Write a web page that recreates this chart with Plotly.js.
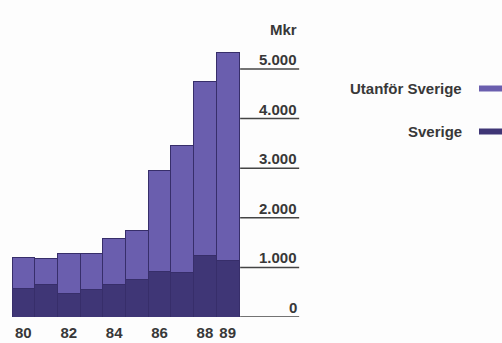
<!DOCTYPE html>
<html>
<head>
<meta charset="utf-8">
<script src="https://cdn.plot.ly/plotly-3.0.1.min.js"></script>
<style>
  html, body { margin: 0; padding: 0; background: #fdfdfd; }
  #chart { width: 502px; height: 343px; }
</style>
</head>
<body>
<div id="chart"></div>
<script>
// Years (two-digit) and revenue in Mkr
const years = ['80', '81', '82', '83', '84', '85', '86', '87', '88', '89'];
const sverige = [570, 655, 480, 550, 650, 750, 920, 900, 1235, 1135];
const totals = [1190, 1175, 1275, 1275, 1580, 1745, 2955, 3455, 4740, 5325];
const utanfor = totals.map((t, i) => t - sverige[i]);

const xTickVals = ['80', '82', '84', '86', '88', '89'];
const yTicks = [0, 1000, 2000, 3000, 4000, 5000];
const yTickText = ['0', '1.000', '2.000', '3.000', '4.000', '5.000'];

const seriesNames = ['Sverige', 'Utanför Sverige'];
const colDark = '#3f3676';
const colLight = '#6a5eae';
const edge = '#372e6a';
const ink = '#383838';
const FONT = 'Liberation Sans, Arial, sans-serif';
const FS = 15;

// plot area in pixels
const L = 12, R = 300, T = 40, B = 317;
const W = 502, H = 343;
const px = v => (v - L) / (R - L);
const py = v => (B - v) / (B - T);

const traces = [
  { type: 'bar', x: years, y: sverige, name: seriesNames[0],
    marker: { color: colDark, line: { color: edge, width: 1 } }, hoverinfo: 'skip' },
  { type: 'bar', x: years, y: utanfor, name: seriesNames[1],
    marker: { color: colLight, line: { color: edge, width: 1 } }, hoverinfo: 'skip' }
];

const shapes = [];
const annotations = [];

// short rules to the right of the bars, one per y tick
yTicks.forEach((v, i) => {
  shapes.push({ type: 'line', xref: 'x', yref: 'y', x0: 9.55, x1: 12.15, y0: v, y1: v,
    line: { color: '#444', width: 1.5 } });
  annotations.push({ xref: 'x', yref: 'y', x: 12.15, y: v, xanchor: 'right', yanchor: 'bottom',
    yshift: -1, showarrow: false, text: yTickText[i],
    font: { family: FONT, size: FS, color: ink, weight: 'bold' } });
});

// unit label
annotations.push({ xref: 'paper', yref: 'paper', x: px(299), y: py(30), xanchor: 'right', yanchor: 'middle',
  showarrow: false, text: 'Mkr', font: { family: FONT, size: FS, color: ink, weight: 'bold' } });

// legend: text on the left, swatch on the right
const legendRows = [
  { name: seriesNames[1], color: colLight, yc: 88.5 },
  { name: seriesNames[0], color: colDark, yc: 131.5 }
];
legendRows.forEach(r => {
  annotations.push({ xref: 'paper', yref: 'paper', x: px(464), y: py(r.yc), xanchor: 'right', yanchor: 'middle',
    showarrow: false, text: r.name, font: { family: FONT, size: FS, color: ink, weight: 'bold' } });
  shapes.push({ type: 'rect', xref: 'paper', yref: 'paper', x0: px(479), x1: px(504),
    y0: py(r.yc + 3), y1: py(r.yc - 3), fillcolor: r.color, line: { width: 0 } });
});

const layout = {
  width: W, height: H,
  margin: { l: L, r: W - R, t: T, b: H - B, pad: 0 },
  paper_bgcolor: '#fdfdfd', plot_bgcolor: 'rgba(0,0,0,0)',
  barmode: 'stack', bargap: 0,
  showlegend: false,
  xaxis: {
    type: 'category', range: [-0.5, 12.187], tickvals: xTickVals, ticktext: xTickVals,
    showgrid: false, zeroline: false, showline: false, ticks: '', ticklabelstandoff: 5,
    tickfont: { family: FONT, size: FS, color: ink, weight: 'bold' }
  },
  yaxis: { range: [0, 5585], visible: false, showgrid: false, zeroline: false },
  shapes: shapes,
  annotations: annotations
};

Plotly.newPlot('chart', traces, layout, { staticPlot: true, displayModeBar: false });
</script>
</body>
</html>
